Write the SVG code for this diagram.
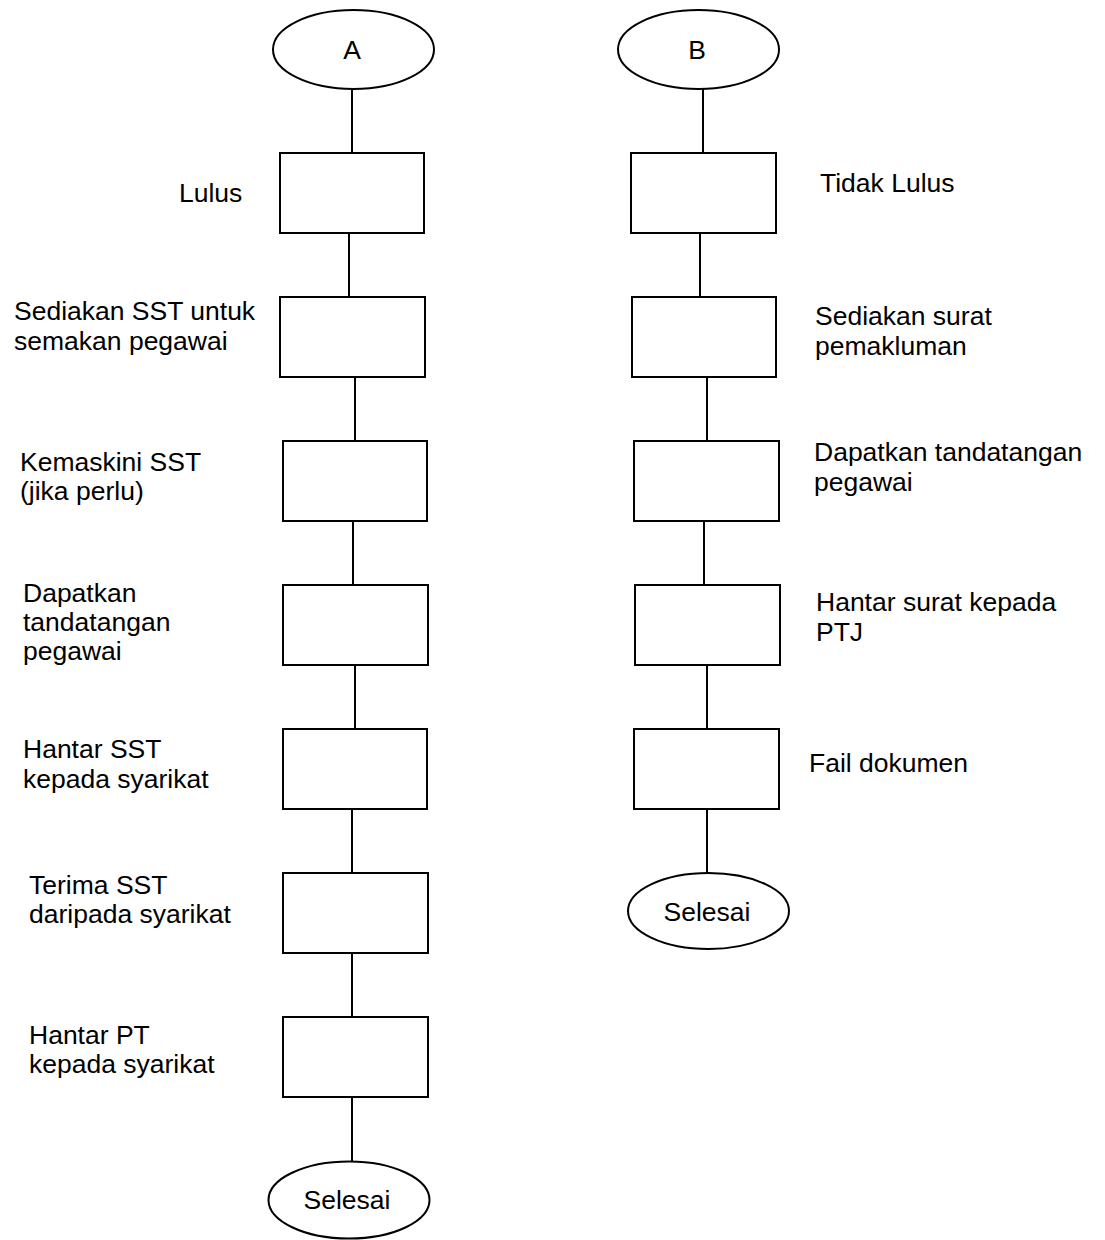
<svg xmlns="http://www.w3.org/2000/svg" width="1105" height="1240" viewBox="0 0 1105 1240">
<style>
.s{fill:#fff;stroke:#000;stroke-width:2}
.c{stroke:#000;stroke-width:2;fill:none}
.t{font-family:"Liberation Sans",Arial,sans-serif;font-size:26.5px;fill:#000}
.m{text-anchor:middle}
</style>
<rect width="1105" height="1240" fill="#fff"/>
<g id="connectors">
<line class="c" x1="352" y1="89" x2="352" y2="153"/>
<line class="c" x1="349" y1="233" x2="349" y2="297"/>
<line class="c" x1="355" y1="377" x2="355" y2="441"/>
<line class="c" x1="353" y1="521" x2="353" y2="585"/>
<line class="c" x1="355" y1="665" x2="355" y2="729"/>
<line class="c" x1="352" y1="809" x2="352" y2="873"/>
<line class="c" x1="352" y1="953" x2="352" y2="1017"/>
<line class="c" x1="352" y1="1097" x2="352" y2="1162"/>
<line class="c" x1="703" y1="89" x2="703" y2="153"/>
<line class="c" x1="700" y1="233" x2="700" y2="297"/>
<line class="c" x1="707" y1="377" x2="707" y2="441"/>
<line class="c" x1="704" y1="521" x2="704" y2="585"/>
<line class="c" x1="707" y1="665" x2="707" y2="729"/>
<line class="c" x1="707" y1="809" x2="707" y2="873"/>
</g>
<g id="A"><ellipse class="s" cx="353.5" cy="49.5" rx="80.5" ry="39.5"/><text class="t m" x="352" y="59">A</text></g>
<g id="A1"><rect class="s" x="280" y="153" width="144" height="80"/><text class="t" x="179" y="202">Lulus</text></g>
<g id="A2"><rect class="s" x="280" y="297" width="145" height="80"/><text class="t" x="14" y="320">Sediakan SST untuk</text><text class="t" x="14" y="350">semakan pegawai</text></g>
<g id="A3"><rect class="s" x="283" y="441" width="144" height="80"/><text class="t" x="20" y="471">Kemaskini SST</text><text class="t" x="20" y="500">(jika perlu)</text></g>
<g id="A4"><rect class="s" x="283" y="585" width="145" height="80"/><text class="t" x="23" y="602">Dapatkan</text><text class="t" x="23" y="631">tandatangan</text><text class="t" x="23" y="660">pegawai</text></g>
<g id="A5"><rect class="s" x="283" y="729" width="144" height="80"/><text class="t" x="23" y="758">Hantar SST</text><text class="t" x="23" y="788">kepada syarikat</text></g>
<g id="A6"><rect class="s" x="283" y="873" width="145" height="80"/><text class="t" x="29" y="894">Terima SST</text><text class="t" x="29" y="923">daripada syarikat</text></g>
<g id="A7"><rect class="s" x="283" y="1017" width="145" height="80"/><text class="t" x="29" y="1044">Hantar PT</text><text class="t" x="29" y="1073">kepada syarikat</text></g>
<g id="A_end"><ellipse class="s" cx="349" cy="1200" rx="80.5" ry="38.5"/><text class="t m" x="347" y="1209">Selesai</text></g>
<g id="B"><ellipse class="s" cx="698.5" cy="49.5" rx="80.5" ry="39.5"/><text class="t m" x="697" y="59">B</text></g>
<g id="B1"><rect class="s" x="631" y="153" width="145" height="80"/><text class="t" x="820" y="192">Tidak Lulus</text></g>
<g id="B2"><rect class="s" x="632" y="297" width="144" height="80"/><text class="t" x="815" y="325">Sediakan surat</text><text class="t" x="815" y="355">pemakluman</text></g>
<g id="B3"><rect class="s" x="634" y="441" width="145" height="80"/><text class="t" x="814" y="461">Dapatkan tandatangan</text><text class="t" x="814" y="491">pegawai</text></g>
<g id="B4"><rect class="s" x="635" y="585" width="145" height="80"/><text class="t" x="816" y="611">Hantar surat kepada</text><text class="t" x="816" y="641">PTJ</text></g>
<g id="B5"><rect class="s" x="634" y="729" width="145" height="80"/><text class="t" x="809" y="772">Fail dokumen</text></g>
<g id="B_end"><ellipse class="s" cx="708.5" cy="911" rx="80.5" ry="38"/><text class="t m" x="707" y="921">Selesai</text></g>
</svg>
